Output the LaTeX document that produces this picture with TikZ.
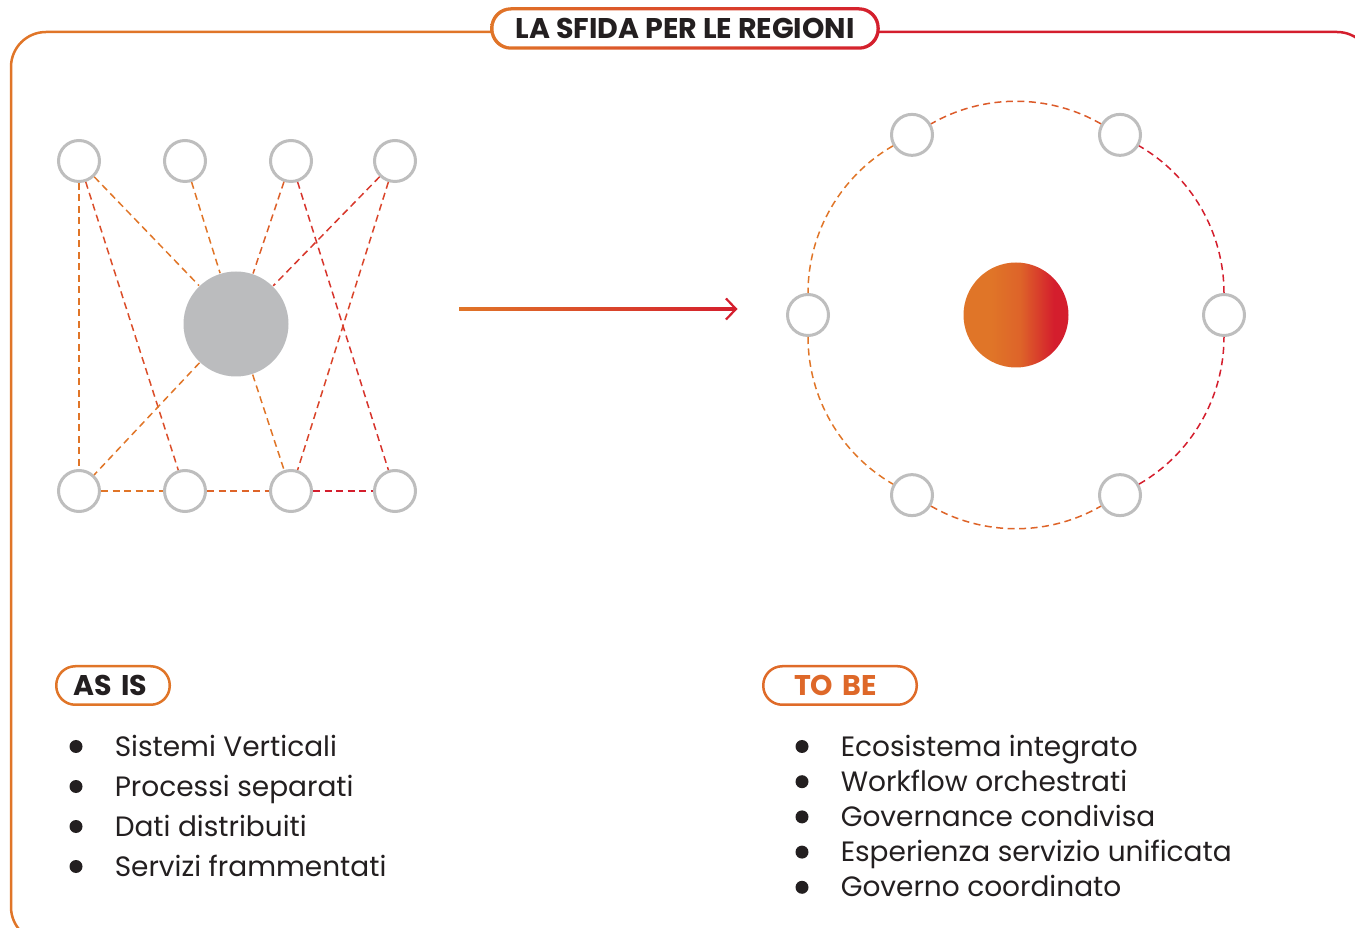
\documentclass[tikz,border=0pt]{standalone}
\usepackage{fontspec}
\setmainfont{Poppins}
\usetikzlibrary{arrows.meta,backgrounds,calc}

\definecolor{orng}{HTML}{E07528}
\definecolor{rd}{HTML}{D41E2D}
\definecolor{ringgray}{HTML}{BEBEBE}
\definecolor{hubgray}{HTML}{BBBCBE}
\definecolor{ink}{HTML}{231F20}
\pgfdeclarehorizontalshading{sunshade}{100bp}{color(0bp)=(orng); color(38bp)=(orng); color(52bp)=(orng!80!rd); color(68bp)=(rd); color(100bp)=(rd)}

\begin{document}
\begin{tikzpicture}[x=1pt, y=1pt,
                    line width=1.5pt,
                    font=\fontsize{28}{34}\selectfont,
                    text=ink]
    \tikzstyle{leaf}=[circle,draw=ringgray,fill=white,line width=3pt,minimum size=41pt,inner sep=0pt]
    \tikzstyle{core}=[circle,fill=hubgray,minimum size=105pt,inner sep=0pt]
    \tikzstyle{glow}=[circle,minimum size=105pt,inner sep=0pt,shading=sunshade]
    \tikzstyle{link}=[dash pattern=on 7pt off 4.5pt,line width=1.5pt]
    \tikzstyle{tag}=[rounded corners=19pt,line width=2.5pt,fill=white,minimum height=38.5pt,inner ysep=0pt,align=left,font=\fontsize{28.5}{34}\selectfont\bfseries]
    \tikzstyle{dot}=[circle,fill=ink,minimum size=13pt,inner sep=0pt]
    \tikzstyle{entry}=[anchor=base west,inner sep=0pt]

    \useasboundingbox (0,0) rectangle (1355,927);

    \node[fill=white,rounded corners=18pt,minimum width=383pt,minimum height=36pt,inner sep=0pt,
          font=\fontsize{28.5}{34}\selectfont\bfseries] (title) at (685,898.5) {LA SFIDA PER LE REGIONI};

    \begin{scope}[on background layer]
        \begin{scope}
            \clip (0,-30) rectangle (685,940);
            \draw[orng,line width=2.5pt,rounded corners=35pt] (11,-15) rectangle (1372,895);
        \end{scope}
        \begin{scope}
            \clip (685,-30) rectangle (1400,940);
            \draw[rd,line width=2.5pt,rounded corners=35pt] (11,-15) rectangle (1372,895);
        \end{scope}
        \shade[left color=orng,right color=rd,rounded corners=20.5pt]
            ([shift={(-2.5,-2.5)}]title.south west) rectangle ([shift={(2.5,2.5)}]title.north east);
    \end{scope}

    \node[leaf] (t1) at (79,766) {};
    \node[leaf] (t2) at (185,766) {};
    \node[leaf] (t3) at (291,766) {};
    \node[leaf] (t4) at (395,766) {};
    \node[core] (hub) at (236,603) {};
    \node[leaf] (b1) at (79,436) {};
    \node[leaf] (b2) at (185,436) {};
    \node[leaf] (b3) at (291,436) {};
    \node[leaf] (b4) at (395,436) {};

    \draw[link,orng] (t1) -- (b1);
    \draw[link,orng] (t1) -- (hub);
    \draw[link,orng!55!rd] (t1) -- (b2);
    \draw[link,orng] (t2) -- (hub);
    \draw[link,orng!75!rd] (t3) -- (hub);
    \draw[link,orng!25!rd] (t3) -- (b4);
    \draw[link,orng!30!rd] (t4) -- (hub);
    \draw[link,orng!45!rd] (t4) -- (b3);
    \draw[link,orng] (hub) -- (b1);
    \draw[link,orng] (hub) -- (b3);
    \draw[link,orng] (b1) -- (b2);
    \draw[link,orng!80!rd] (b2) -- (b3);
    \draw[link,rd] (b3) -- (b4);

    \coordinate (arrowtail) at (459,618);
    \coordinate (arrowtip) at (737.5,618);
    \shade[left color=orng,right color=rd] ($(arrowtail)+(0,-1.1)$) rectangle ($(arrowtip)+(-2,1.1)$);
    \draw[rd,line width=2.2pt,-{Straight Barb[length=10pt,width=21pt]}] ($(arrowtip)+(-4,0)$) -- (arrowtip);

    \node[glow] (sun) at (1016,612) {};
    \foreach \a [count=\i from 0] in {0,60,...,300}
        \node[leaf] (orbit\i) at ($(sun)+(\a:208)$) {};

    \draw[link,rd] (orbit0) to[bend right=30,looseness=0.91] (orbit1);
    \draw[link,orng!70!rd] (orbit1) to[bend right=30,looseness=0.91] (orbit2);
    \draw[link,orng] (orbit2) to[bend right=30,looseness=0.91] (orbit3);
    \draw[link,orng] (orbit3) to[bend right=30,looseness=0.91] (orbit4);
    \draw[link,orng!80!rd] (orbit4) to[bend right=30,looseness=0.91] (orbit5);
    \draw[link,rd] (orbit5) to[bend right=30,looseness=0.91] (orbit0);

    \node[tag,draw=orng,minimum width=113.5pt,text width=79pt,inner xsep=17.25pt] (asis) at (113,241.5) {AS IS};
    \node[tag,draw=orng!88!rd,text=orng!85!rd,minimum width=153.5pt,text width=92pt,inner xsep=30.75pt] (tobe) at (840,241.5) {TO BE};

    \foreach \txt [count=\i] in {Sistemi Verticali,Processi separati,Dati distribuiti,Servizi frammentati} {
        \node[dot] (asisdot\i) at (76,{180.5-40*(\i-1)}) {};
        \node[entry] (asisitem\i) at (114,{171-40*(\i-1)}) {\txt};
    }
    \foreach \txt [count=\i] in {Ecosistema integrato,Workflow orchestrati,Governance condivisa,Esperienza servizio unificata,Governo coordinato} {
        \node[dot] (tobedot\i) at (802,{180.5-35.2*(\i-1)}) {};
        \node[entry] (tobeitem\i) at (840,{171-35.2*(\i-1)}) {\txt};
    }
\end{tikzpicture}
\end{document}
